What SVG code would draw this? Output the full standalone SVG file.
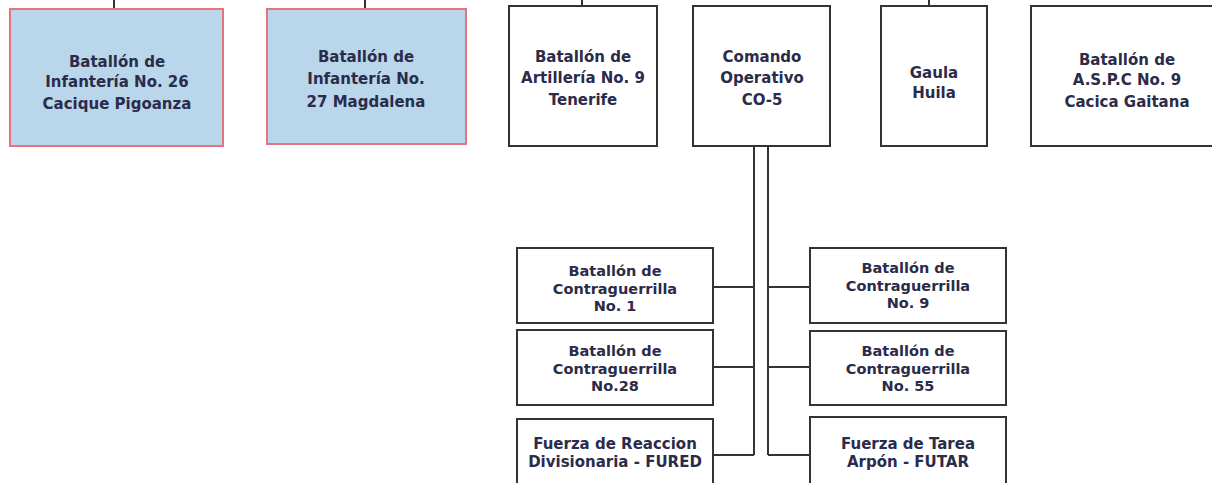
<svg xmlns="http://www.w3.org/2000/svg" width="1212" height="483" viewBox="0 0 1212 483">
<style>
.box{fill:#ffffff;stroke:#333333;stroke-width:2}
.blue{fill:#b9d6ea;stroke:#e8737d;stroke-width:2}
.t{font-family:"DejaVu Sans","Noto Sans",sans-serif;font-weight:bold;font-size:15px;fill:#2b2b4a;text-anchor:middle}
.s{font-size:14.5px}
.c{stroke:#333333;stroke-width:2;fill:none}
</style>
<rect width="1212" height="483" fill="#ffffff"/>
<g id="connectors">
<path class="c" d="M114 0V9M365 0V9M582 0V6M929 0V6M1126 122V146"/>
<path class="c" d="M754 146V455M768 146V455"/>
<path class="c" d="M713 287H754M709 367H754M713 455H754"/>
<path class="c" d="M768 287H810M768 367H810M768 455H810"/>
</g>
<g id="n1"><rect class="blue" x="10" y="9" width="213" height="137"/>
<text class="t" x="117" y="67">Batallón de</text><text class="t" x="117" y="87">Infantería No. 26</text><text class="t" x="117" y="109">Cacique Pigoanza</text></g>
<g id="n2"><rect class="blue" x="267" y="9" width="199" height="135"/>
<text class="t" x="366" y="62">Batallón de</text><text class="t" x="366" y="84">Infantería No.</text><text class="t" x="366" y="107">27 Magdalena</text></g>
<g id="n3"><rect class="box" x="509" y="6" width="148" height="140"/>
<text class="t" x="583" y="62">Batallón de</text><text class="t" x="583" y="83">Artillería No. 9</text><text class="t" x="583" y="105">Tenerife</text></g>
<g id="n4"><rect class="box" x="693" y="6" width="137" height="140"/>
<text class="t" x="762" y="62">Comando</text><text class="t" x="762" y="83">Operativo</text><text class="t" x="762" y="105">CO-5</text></g>
<g id="n5"><rect class="box" x="881" y="6" width="106" height="140"/>
<text class="t" x="934" y="78">Gaula</text><text class="t" x="934" y="98">Huila</text></g>
<g id="n6"><rect class="box" x="1031" y="6" width="195" height="140"/>
<text class="t" x="1127" y="65">Batallón de</text><text class="t" x="1127" y="85">A.S.P.C No. 9</text><text class="t" x="1127" y="107">Cacica Gaitana</text></g>
<g id="n7"><rect class="box" x="517" y="248" width="196" height="75"/>
<text class="t s" x="615" y="276">Batallón de</text><text class="t s" x="615" y="294">Contraguerrilla</text><text class="t s" x="615" y="311">No. 1</text></g>
<g id="n8"><rect class="box" x="517" y="330" width="196" height="75"/>
<text class="t s" x="615" y="356">Batallón de</text><text class="t s" x="615" y="374">Contraguerrilla</text><text class="t s" x="615" y="391">No.28</text></g>
<g id="n9"><rect class="box" x="517" y="419" width="196" height="80"/>
<text class="t" x="615" y="449">Fuerza de Reaccion</text><text class="t" x="615" y="467">Divisionaria - FURED</text></g>
<g id="n10"><rect class="box" x="810" y="248" width="196" height="75"/>
<text class="t s" x="908" y="273">Batallón de</text><text class="t s" x="908" y="291">Contraguerrilla</text><text class="t s" x="908" y="308">No. 9</text></g>
<g id="n11"><rect class="box" x="810" y="331" width="196" height="74"/>
<text class="t s" x="908" y="356">Batallón de</text><text class="t s" x="908" y="374">Contraguerrilla</text><text class="t s" x="908" y="391">No. 55</text></g>
<g id="n12"><rect class="box" x="810" y="417" width="196" height="80"/>
<text class="t" x="908" y="449">Fuerza de Tarea</text><text class="t" x="908" y="467">Arpón - FUTAR</text></g>
</svg>
